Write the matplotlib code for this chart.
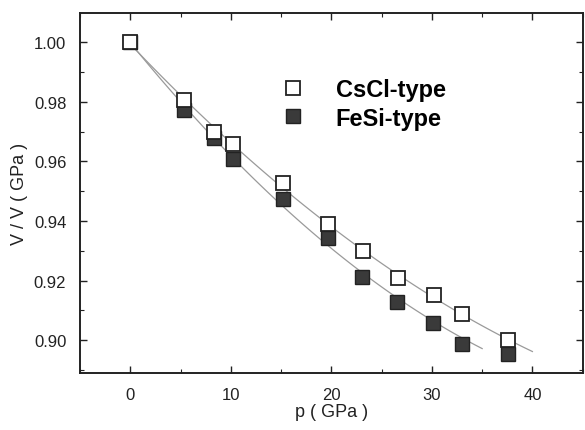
import numpy as np
import matplotlib
matplotlib.use('Agg')
import matplotlib.pyplot as plt
from matplotlib.ticker import MultipleLocator

plt.rcParams['font.family'] = ['Liberation Sans', 'DejaVu Sans']

# ── Data ─────────────────────────────────────────────────────
p_cscl = [0.0, 5.3, 8.3, 10.2, 15.2, 19.7, 23.1, 26.6, 30.2, 33.0, 37.6]
v_cscl = [1.000, 0.9807, 0.970, 0.9657, 0.9527, 0.939, 0.930, 0.921, 0.9153, 0.9087, 0.900]

p_fesi = [0.0, 5.3, 8.3, 10.2, 15.2, 19.7, 23.0, 26.5, 30.1, 33.0, 37.6]
v_fesi = [1.000, 0.9773, 0.968, 0.9607, 0.9473, 0.9343, 0.9213, 0.913, 0.9057, 0.8987, 0.8953]

fit_end_cscl = 40.0
fit_end_fesi = 35.0

INK = '#222222'
FILL = '#3a3a3a'
LINE = '#9a9a9a'

fig = plt.figure(figsize=(5.85, 4.31), dpi=100)
ax = fig.add_axes([0.137, 0.132, 0.859, 0.835])

# fitted curves (quadratic fit to the points)
for p, v, end in [(p_cscl, v_cscl, fit_end_cscl), (p_fesi, v_fesi, fit_end_fesi)]:
    c = np.polyfit(p, v, 2)
    xs = np.linspace(0, end, 100)
    ax.plot(xs, np.polyval(c, xs), color=LINE, lw=0.9, zorder=1)

ax.plot(p_cscl, v_cscl, 's', ms=9.5, mfc='white', mec=INK, mew=1.3,
        label='CsCl-type', zorder=3)
ax.plot(p_fesi, v_fesi, 's', ms=9.5, mfc=FILL, mec=INK, mew=1.0,
        label='FeSi-type', zorder=2)

ax.set_xlim(-5, 45)
ax.set_ylim(0.889, 1.0097)
ax.xaxis.set_major_locator(MultipleLocator(10))
ax.xaxis.set_minor_locator(MultipleLocator(5))
ax.yaxis.set_major_locator(MultipleLocator(0.02))
ax.yaxis.set_minor_locator(MultipleLocator(0.01))
ax.yaxis.set_major_formatter(matplotlib.ticker.FormatStrFormatter('%.2f'))

ax.tick_params(which='both', direction='in', top=True, right=True,
               colors=INK, labelsize=12)
ax.tick_params(axis='y', pad=10)
ax.tick_params(axis='x', pad=10)
ax.tick_params(which='major', length=5, width=1)
ax.tick_params(which='minor', length=3, width=0.8)
for s in ax.spines.values():
    s.set_linewidth(1.4)
    s.set_color(INK)

ax.set_xlabel('p ( GPa )', fontsize=13, color=INK, labelpad=1)
ax.set_ylabel('V / V ( GPa )', fontsize=13, color=INK, labelpad=4)

ax.legend(loc='upper left', bbox_to_anchor=(0.335, 0.878), frameon=False,
          handletextpad=0.8, labelspacing=0.22,
          prop={'weight': 'bold', 'size': 17})

fig.savefig('out.png', dpi=100, facecolor='white')
